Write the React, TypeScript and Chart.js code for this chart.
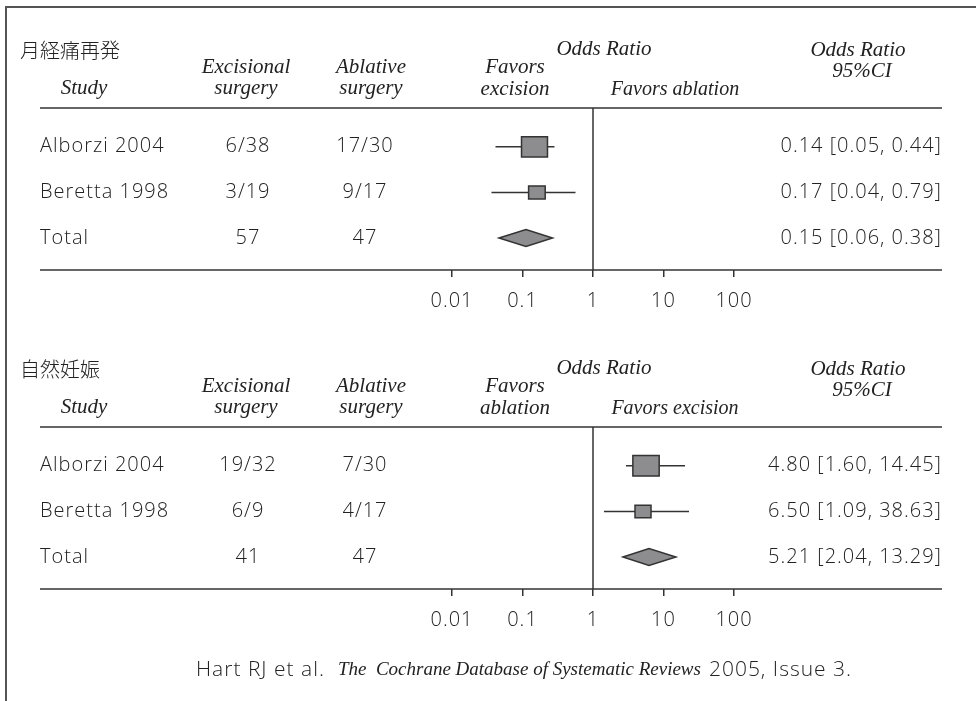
import React, { useEffect, useRef } from 'react';
import { Chart, registerables } from 'chart.js';

Chart.register(...registerables);

// ---------- data ----------
const tickValues = [0.01, 0.1, 1, 10, 100];
const tickLabels = ['0.01', '0.1', '1', '10', '100'];

const studyNames = ['Alborzi 2004', 'Beretta 1998', 'Total'];
const headerStudy = 'Study';
const headerExcisional = ['Excisional', 'surgery'];
const headerAblative = ['Ablative', 'surgery'];
const headerOR = 'Odds Ratio';
const headerORCI = ['Odds Ratio', '95%CI'];

// panel 1: 月経痛再発
const title1 = '月経痛再発';
const excisional1 = ['6/38', '3/19', '57'];
const ablative1 = ['17/30', '9/17', '47'];
const ciText1 = ['0.14 [0.05, 0.44]', '0.17 [0.04, 0.79]', '0.15 [0.06, 0.38]'];
const or1 = [0.148, 0.16, 0.112];
const lo1 = [0.0414, 0.0363, 0.0464];
const hi1 = [0.284, 0.565, 0.267];
const weight1 = [71, 29];
const favorsLeft1 = ['Favors', 'excision'];
const favorsRight1 = 'Favors ablation';

// panel 2: 自然妊娠
const title2 = '自然妊娠';
const excisional2 = ['19/32', '6/9', '41'];
const ablative2 = ['7/30', '4/17', '47'];
const ciText2 = ['4.80 [1.60, 14.45]', '6.50 [1.09, 38.63]', '5.21 [2.04, 13.29]'];
const or2 = [5.65, 5.12, 6.23];
const lo2 = [2.94, 1.43, 2.66];
const hi2 = [20.2, 23.0, 15.0];
const weight2 = [73, 27];
const favorsLeft2 = ['Favors', 'ablation'];
const favorsRight2 = 'Favors excision';

const footerParts = ['Hart RJ et al.', 'The  Cochrane Database of Systematic Reviews', '2005, Issue 3.'];

// ---------- styles ----------
const TEXT = '#222';
const LINE = '#333';
const FILL = '#8d8d8f';
const SANS_FAMILY = '"Open Sans", "Noto Sans", sans-serif';
const SANS_SPACING = '1px';
const sans = (s = 20) => `300 ${s}px ${SANS_FAMILY}`;
const serifI = (s = 20) => `italic ${s}px "Liberation Serif", "DejaVu Serif", serif`;
const cjk = (s = 20) => `300 ${s}px "Noto Sans CJK JP", "Noto Sans", sans-serif`;

type PanelProps = {
  title: string;
  excisional: string[];
  ablative: string[];
  ciText: string[];
  or: number[];
  lo: number[];
  hi: number[];
  weight: number[];
  favorsLeft: string[];
  favorsRight: string;
  height: number;
  top: number;
  footer?: boolean;
};

function Panel(p: PanelProps) {
  const ref = useRef<HTMLCanvasElement | null>(null);
  useEffect(() => {
    if (!ref.current) return;
    const H = p.height;
    const drawPlugin = {
      id: 'forest',
      beforeDraw(chart: any) {
        (chart.ctx as any).letterSpacing = SANS_SPACING;
      },
      afterDraw(chart: any) {
        const ctx: CanvasRenderingContext2D = chart.ctx;
        const xs = chart.scales.x;
        const ys = chart.scales.y;
        const area = chart.chartArea;
        ctx.save();
        const text = (
          t: string,
          x: number,
          y: number,
          font: string,
          align: CanvasTextAlign = 'left',
          spacing = '0px'
        ) => {
          ctx.font = font;
          (ctx as any).letterSpacing = spacing;
          ctx.fillStyle = TEXT;
          ctx.textAlign = align;
          ctx.textBaseline = 'middle';
          ctx.fillText(t, x, y);
        };
        const stext = (t: string, x: number, y: number, align: CanvasTextAlign = 'left', size = 20) =>
          text(t, x, y, sans(size), align, SANS_SPACING);
        const line = (x1: number, y1: number, x2: number, y2: number, w = 1.5) => {
          ctx.beginPath();
          ctx.strokeStyle = LINE;
          ctx.lineWidth = w;
          ctx.moveTo(x1, y1);
          ctx.lineTo(x2, y2);
          ctx.stroke();
        };
        // header texts
        text(p.title, 20, 50, cjk(20));
        text(headerStudy, 84, 88, serifI(21), 'center');
        text(headerExcisional[0], 246, 67, serifI(21), 'center');
        text(headerExcisional[1], 246, 88, serifI(21), 'center');
        text(headerAblative[0], 371, 67, serifI(21), 'center');
        text(headerAblative[1], 371, 88, serifI(21), 'center');
        text(p.favorsLeft[0], 515, 67, serifI(21), 'center');
        text(p.favorsLeft[1], 515, 89, serifI(21), 'center');
        text(headerOR, 604, 49, serifI(21), 'center');
        text(p.favorsRight, 675, 90, serifI(20), 'center');
        text(headerORCI[0], 858, 50, serifI(21), 'center');
        text(headerORCI[1], 862, 71, serifI(21), 'center');
        // header line and baseline
        line(40, area.top, 942, area.top);
        line(40, area.bottom, 942, area.bottom);
        // null line
        const x1 = xs.getPixelForValue(1);
        line(x1, area.top, x1, area.bottom, 1.5);
        // rows
        for (let i = 0; i < studyNames.length; i++) {
          const y = ys.getPixelForValue(i);
          stext(studyNames[i], 40, y);
          stext(p.excisional[i], 248, y, 'center');
          stext(p.ablative[i], 365, y, 'center');
          stext(p.ciText[i], 942, y, 'right');
          const xl = xs.getPixelForValue(p.lo[i]);
          const xh = xs.getPixelForValue(p.hi[i]);
          const xc = xs.getPixelForValue(p.or[i]);
          ctx.lineWidth = 1.5;
          if (i < p.weight.length) {
            line(xl, y, xh, y, 1.5);
            const bw = 3.08 * Math.sqrt(p.weight[i]);
            const bh = bw * 0.78;
            ctx.beginPath();
            ctx.rect(xc - bw / 2, y - bh / 2, bw, bh);
            ctx.fillStyle = FILL;
            ctx.fill();
            ctx.strokeStyle = LINE;
            ctx.stroke();
          } else {
            ctx.beginPath();
            ctx.moveTo(xl, y);
            ctx.lineTo(xc, y - 8.5);
            ctx.lineTo(xh, y);
            ctx.lineTo(xc, y + 8.5);
            ctx.closePath();
            ctx.fillStyle = FILL;
            ctx.fill();
            ctx.strokeStyle = LINE;
            ctx.stroke();
          }
        }
        if (p.footer) {
          const fy = 351;
          let fx = 196;
          stext(footerParts[0], fx, fy, 'left', 21);
          fx += ctx.measureText(footerParts[0]).width + 13;
          text(footerParts[1], fx, fy, serifI(19));
          fx += ctx.measureText(footerParts[1]).width + 8;
          stext(footerParts[2], fx, fy, 'left', 21);
        }
        ctx.restore();
      },
    };

    const chart = new Chart(ref.current, {
      type: 'scatter',
      data: {
        datasets: [
          {
            data: p.or.map((v, i) => ({ x: v, y: i })),
            pointRadius: 0,
            showLine: false,
          },
        ],
      },
      options: {
        animation: false,
        responsive: false,
        maintainAspectRatio: false,
        events: [],
        layout: { padding: { left: 452, right: 242, top: 108, bottom: H - 270 - 40 } },
        plugins: { legend: { display: false }, tooltip: { enabled: false } },
        scales: {
          x: {
            type: 'logarithmic',
            min: 0.01,
            max: 100,
            position: 'bottom',
            afterBuildTicks: (s: any) => {
              s.ticks = tickValues.map((v) => ({ value: v }));
            },
            afterFit: (s: any) => {
              s.height = 40;
            },
            ticks: {
              autoSkip: false,
              maxRotation: 0,
              padding: 12,
              color: TEXT,
              font: { family: SANS_FAMILY, size: 20, weight: '300' as any },
              callback: (v: any) => {
                const idx = tickValues.indexOf(Number(v));
                return idx >= 0 ? tickLabels[idx] : '';
              },
            },
            grid: {
              display: true,
              drawOnChartArea: false,
              drawTicks: true,
              tickLength: 7,
              color: LINE,
              lineWidth: 1.5,
            },
            border: { display: false },
          },
          y: { display: false, min: -0.85, max: 2.7, reverse: true },
        },
      },
      plugins: [drawPlugin],
    } as any);
    return () => chart.destroy();
  }, []);
  return (
    <canvas
      ref={ref}
      width={976}
      height={p.height}
      style={{ position: 'absolute', left: 0, top: p.top, width: 976, height: p.height }}
    />
  );
}

export default function App() {
  return (
    <div style={{ position: 'fixed', left: 0, top: 0, width: 976, height: 701, background: '#fff', overflow: 'hidden' }}>
      <div
        style={{
          position: 'absolute',
          left: 5,
          top: 6,
          width: 980,
          height: 710,
          borderTop: '2px solid #555',
          borderLeft: '2px solid #555',
        }}
      />
      <Panel
        title={title1}
        excisional={excisional1}
        ablative={ablative1}
        ciText={ciText1}
        or={or1}
        lo={lo1}
        hi={hi1}
        weight={weight1}
        favorsLeft={favorsLeft1}
        favorsRight={favorsRight1}
        height={319}
        top={0}
      />
      <Panel
        title={title2}
        excisional={excisional2}
        ablative={ablative2}
        ciText={ciText2}
        or={or2}
        lo={lo2}
        hi={hi2}
        weight={weight2}
        favorsLeft={favorsLeft2}
        favorsRight={favorsRight2}
        height={382}
        top={319}
        footer
      />
    </div>
  );
}
